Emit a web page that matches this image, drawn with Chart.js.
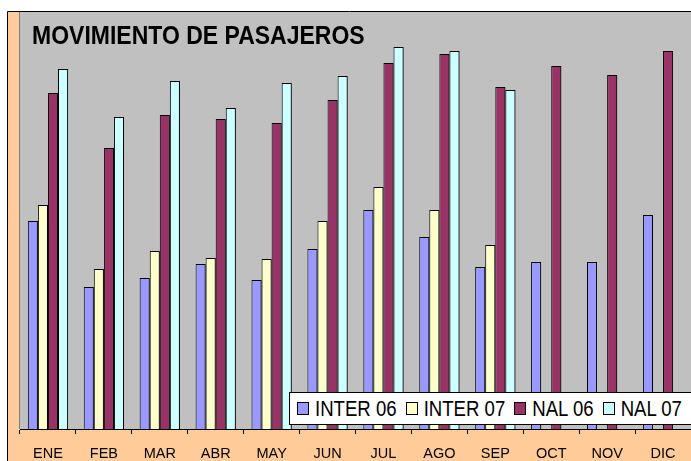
<!DOCTYPE html>
<html>
<head>
<meta charset="utf-8">
<script src="https://cdn.jsdelivr.net/npm/chart.js@4/dist/chart.umd.min.js"></script>
<style>
body { margin: 0; background: #fff; }
#wrap { position: relative; width: 691px; height: 461px; overflow: hidden; }
#titulo { position: absolute; left: 32px; top: 22px; font: bold 23px "Liberation Sans", Arial, sans-serif; line-height: 23px; transform: scaleY(1.15); transform-origin: 0 0; white-space: nowrap; color: #000; }
#leyenda { position: absolute; left: 289px; top: 392px; width: 420px; height: 31px; background: #fff; border: 1px solid #000; display: flex; align-items: center; padding-left: 7px; box-sizing: content-box; }
#leyenda .item { display: flex; align-items: center; margin-right: 9px; }
#leyenda .box { width: 10px; height: 11px; border: 1px solid #000; margin-right: 6px; }
#leyenda .txt { font: 18.6px "Liberation Sans", Arial, sans-serif; line-height: 19px; transform: scaleY(1.2); white-space: nowrap; }
</style>
</head>
<body>
<div id="wrap">
<canvas id="grafico" width="691" height="461"></canvas>
<div id="titulo">MOVIMIENTO DE PASAJEROS</div>
<div id="leyenda"></div>
</div>
<script>
var meses = ['ENE','FEB','MAR','ABR','MAY','JUN','JUL','AGO','SEP','OCT','NOV','DIC'];
var inter06 = [208, 142, 151, 165, 149, 180, 219, 192, 162, 167, 167, 214];
var inter07 = [224, 160, 178, 171, 170, 208, 242, 219, 184, null, null, null];
var nal06 = [336, 281, 314, 310, 306, 329, 366, 375, 342, 363, 354, 378];
var nal07 = [360, 312, 348, 321, 346, 353, 382, 378, 339, null, null, null];

var series = [
    { label: 'INTER 06', data: inter06, color: '#9999FF' },
    { label: 'INTER 07', data: inter07, color: '#FFFFCC' },
    { label: 'NAL 06', data: nal06, color: '#993366' },
    { label: 'NAL 07', data: nal07, color: '#CCFFFF' }
];

var fondo = {
    id: 'fondo',
    beforeDraw: function(chart) {
        var ctx = chart.ctx, a = chart.chartArea;
        ctx.save();
        ctx.fillStyle = '#fff';
        ctx.fillRect(0, 0, chart.width, chart.height);
        ctx.fillStyle = '#FFCC99';
        ctx.fillRect(8, 12, chart.width - 8, chart.height - 12);
        ctx.fillStyle = '#C0C0C0';
        ctx.fillRect(a.left, a.top, a.right - a.left, a.bottom - a.top);
        ctx.strokeStyle = '#000';
        ctx.lineWidth = 1;
        ctx.beginPath();
        ctx.moveTo(7.5, chart.height);
        ctx.lineTo(7.5, 11.5);
        ctx.lineTo(chart.width, 11.5);
        ctx.stroke();
        ctx.strokeStyle = '#808080';
        ctx.beginPath();
        ctx.moveTo(a.left - 0.5, a.top);
        ctx.lineTo(a.left - 0.5, a.bottom);
        ctx.stroke();
        ctx.restore();
    },
    beforeDatasetsDraw: function(chart) {
        var ctx = chart.ctx;
        ctx.save();
        ctx.shadowColor = 'rgba(0,0,0,0.45)';
        ctx.shadowOffsetX = 2;
        ctx.shadowOffsetY = 0;
        ctx.shadowBlur = 0;
    },
    afterDatasetsDraw: function(chart) {
        chart.ctx.restore();
    }
};

var ctx = document.getElementById('grafico').getContext('2d');
var chart = new Chart(ctx, {
    type: 'bar',
    data: {
        labels: meses,
        datasets: series.map(function(s) {
            return {
                label: s.label,
                data: s.data,
                backgroundColor: s.color,
                borderColor: '#000',
                borderWidth: 1,
                categoryPercentage: 0.72,
                barPercentage: 1
            };
        })
    },
    options: {
        responsive: false,
        animation: false,
        layout: { padding: { left: 20, top: 12, right: 0, bottom: 0 } },
        plugins: { legend: { display: false }, title: { display: false }, tooltip: { enabled: false } },
        scales: {
            x: {
                grid: { display: true, offset: true, drawOnChartArea: false, drawTicks: true, tickLength: 5, color: '#000' },
                border: { display: true, color: '#000' },
                ticks: { color: '#000', font: { family: '"Liberation Sans", Arial, sans-serif', size: 14.5 }, padding: 11 },
                afterFit: function(scale) { scale.height = 32; }
            },
            y: {
                display: false,
                min: 0,
                max: 417
            }
        }
    },
    plugins: [fondo]
});

var ley = document.getElementById('leyenda');
series.forEach(function(s) {
    var it = document.createElement('div');
    it.className = 'item';
    var b = document.createElement('div');
    b.className = 'box';
    b.style.background = s.color;
    var t = document.createElement('span');
    t.className = 'txt';
    t.textContent = s.label;
    it.appendChild(b);
    it.appendChild(t);
    ley.appendChild(it);
});
</script>
</body>
</html>
